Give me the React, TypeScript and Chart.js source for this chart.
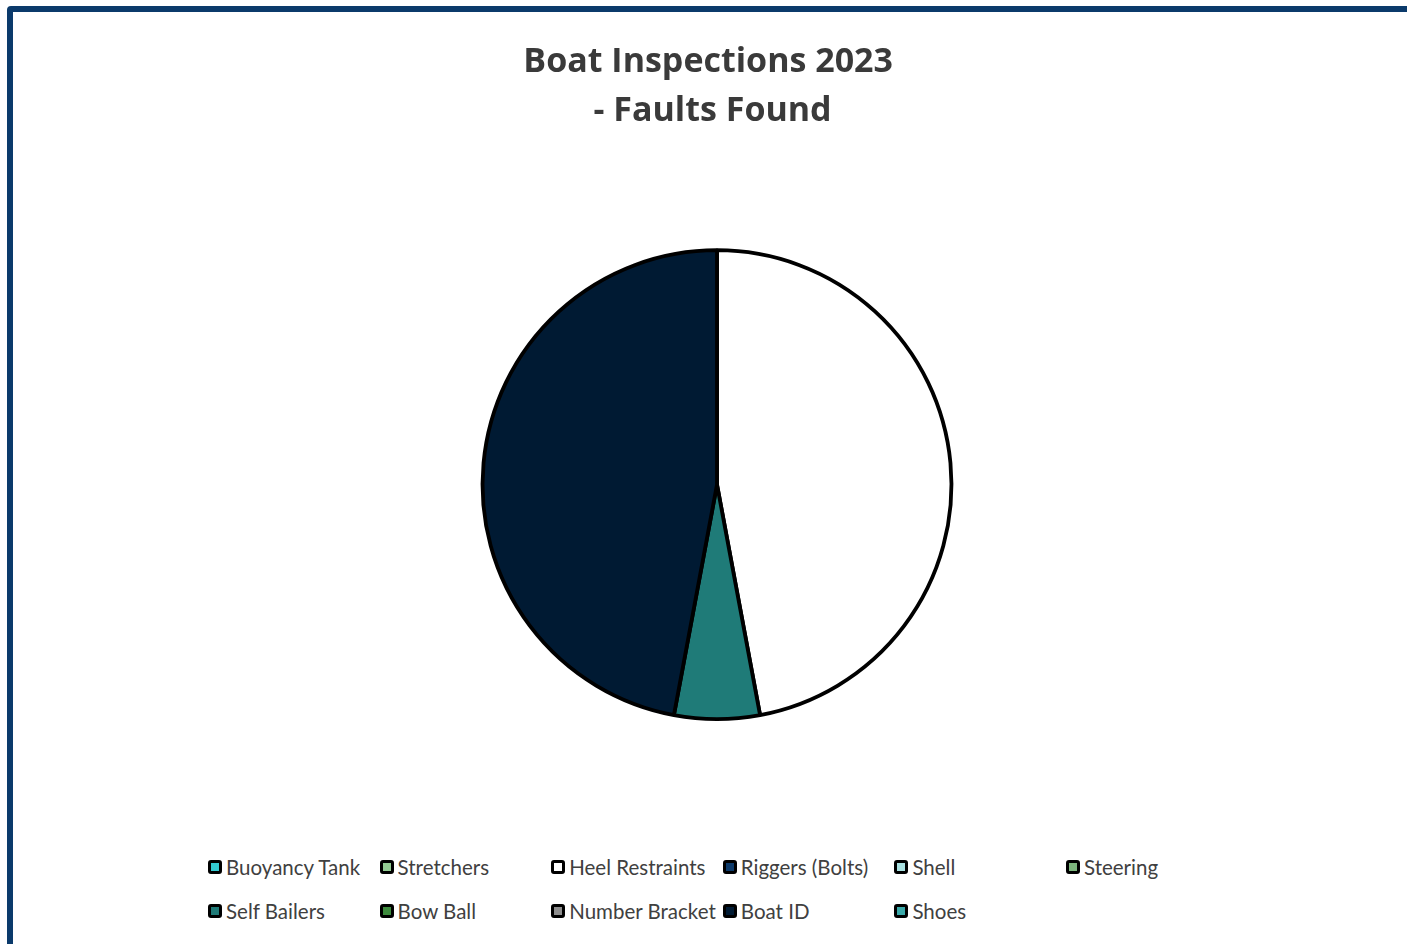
import React, { useEffect, useRef } from "react";
import { Chart, registerables } from "chart.js";

Chart.register(...registerables);

const categories = [
  "Buoyancy Tank",
  "Stretchers",
  "Heel Restraints",
  "Riggers (Bolts)",
  "Shell",
  "Steering",
  "Self Bailers",
  "Bow Ball",
  "Number Bracket",
  "Boat ID",
  "Shoes",
];
const faultCounts = [0, 0, 8, 0, 0, 0, 1, 0, 0, 8, 0];
const sliceColors = [
  "#33c9d0",
  "#93cc93",
  "#ffffff",
  "#0d3a6a",
  "#a9e1e1",
  "#7db67d",
  "#1f7b78",
  "#3d8b3d",
  "#8e8e8e",
  "#001a33",
  "#3aa9a9",
];
const titleLines = ["Boat Inspections 2023\u00a0\u00a0", "- Faults Found\u00a0"];

export default function App() {
  const canvasRef = useRef<HTMLCanvasElement | null>(null);

  useEffect(() => {
    if (!canvasRef.current) return;
    const chart = new Chart(canvasRef.current, {
      type: "pie",
      data: {
        labels: categories,
        datasets: [
          {
            data: faultCounts,
            backgroundColor: sliceColors,
            borderColor: "#000000",
            borderWidth: 3.8,
          },
        ],
      },
      options: {
        animation: false,
        responsive: false,
        layout: { padding: { top: 0, bottom: 121, left: 0, right: 0 } },
        plugins: {
          legend: { display: false },
          tooltip: { enabled: false },
          title: {
            display: true,
            text: titleLines,
            color: "#3a3a3a",
            font: { family: "Open Sans", size: 34, weight: "bold", lineHeight: 1.46 },
            padding: { top: 25, bottom: 112 },
          },
        },
      },
    });
    return () => chart.destroy();
  }, []);

  return (
    <div style={{ position: "fixed", inset: 0, overflow: "hidden", background: "#fff" }}>
      <div
        style={{
          position: "absolute",
          left: 7,
          top: 6,
          width: 1420,
          height: 950,
          border: "6px solid #0b3a6b",
          borderRadius: 4,
          boxSizing: "border-box",
          background: "#fff",
        }}
      >
        <canvas
          ref={canvasRef}
          width={1408}
          height={830}
          style={{ position: "absolute", left: 0, top: 0, width: 1408, height: 830 }}
        />
        <div
          style={{
            position: "absolute",
            left: 195,
            top: 833,
            display: "grid",
            gridTemplateColumns: "repeat(6, 171.6px)",
            gridAutoRows: "44px",
            fontFamily: "Lato",
            fontSize: 20.5,
            color: "#404040",
          }}
        >
          {categories.map((c, i) => (
            <div key={c} style={{ display: "flex", alignItems: "center", whiteSpace: "nowrap" }}>
              <span
                style={{
                  display: "inline-block",
                  width: 8,
                  height: 8,
                  border: "3.5px solid #000",
                  borderRadius: 3,
                  background: sliceColors[i],
                  marginRight: 4,
                }}
              />
              <span>{c}</span>
            </div>
          ))}
        </div>
      </div>
    </div>
  );
}
